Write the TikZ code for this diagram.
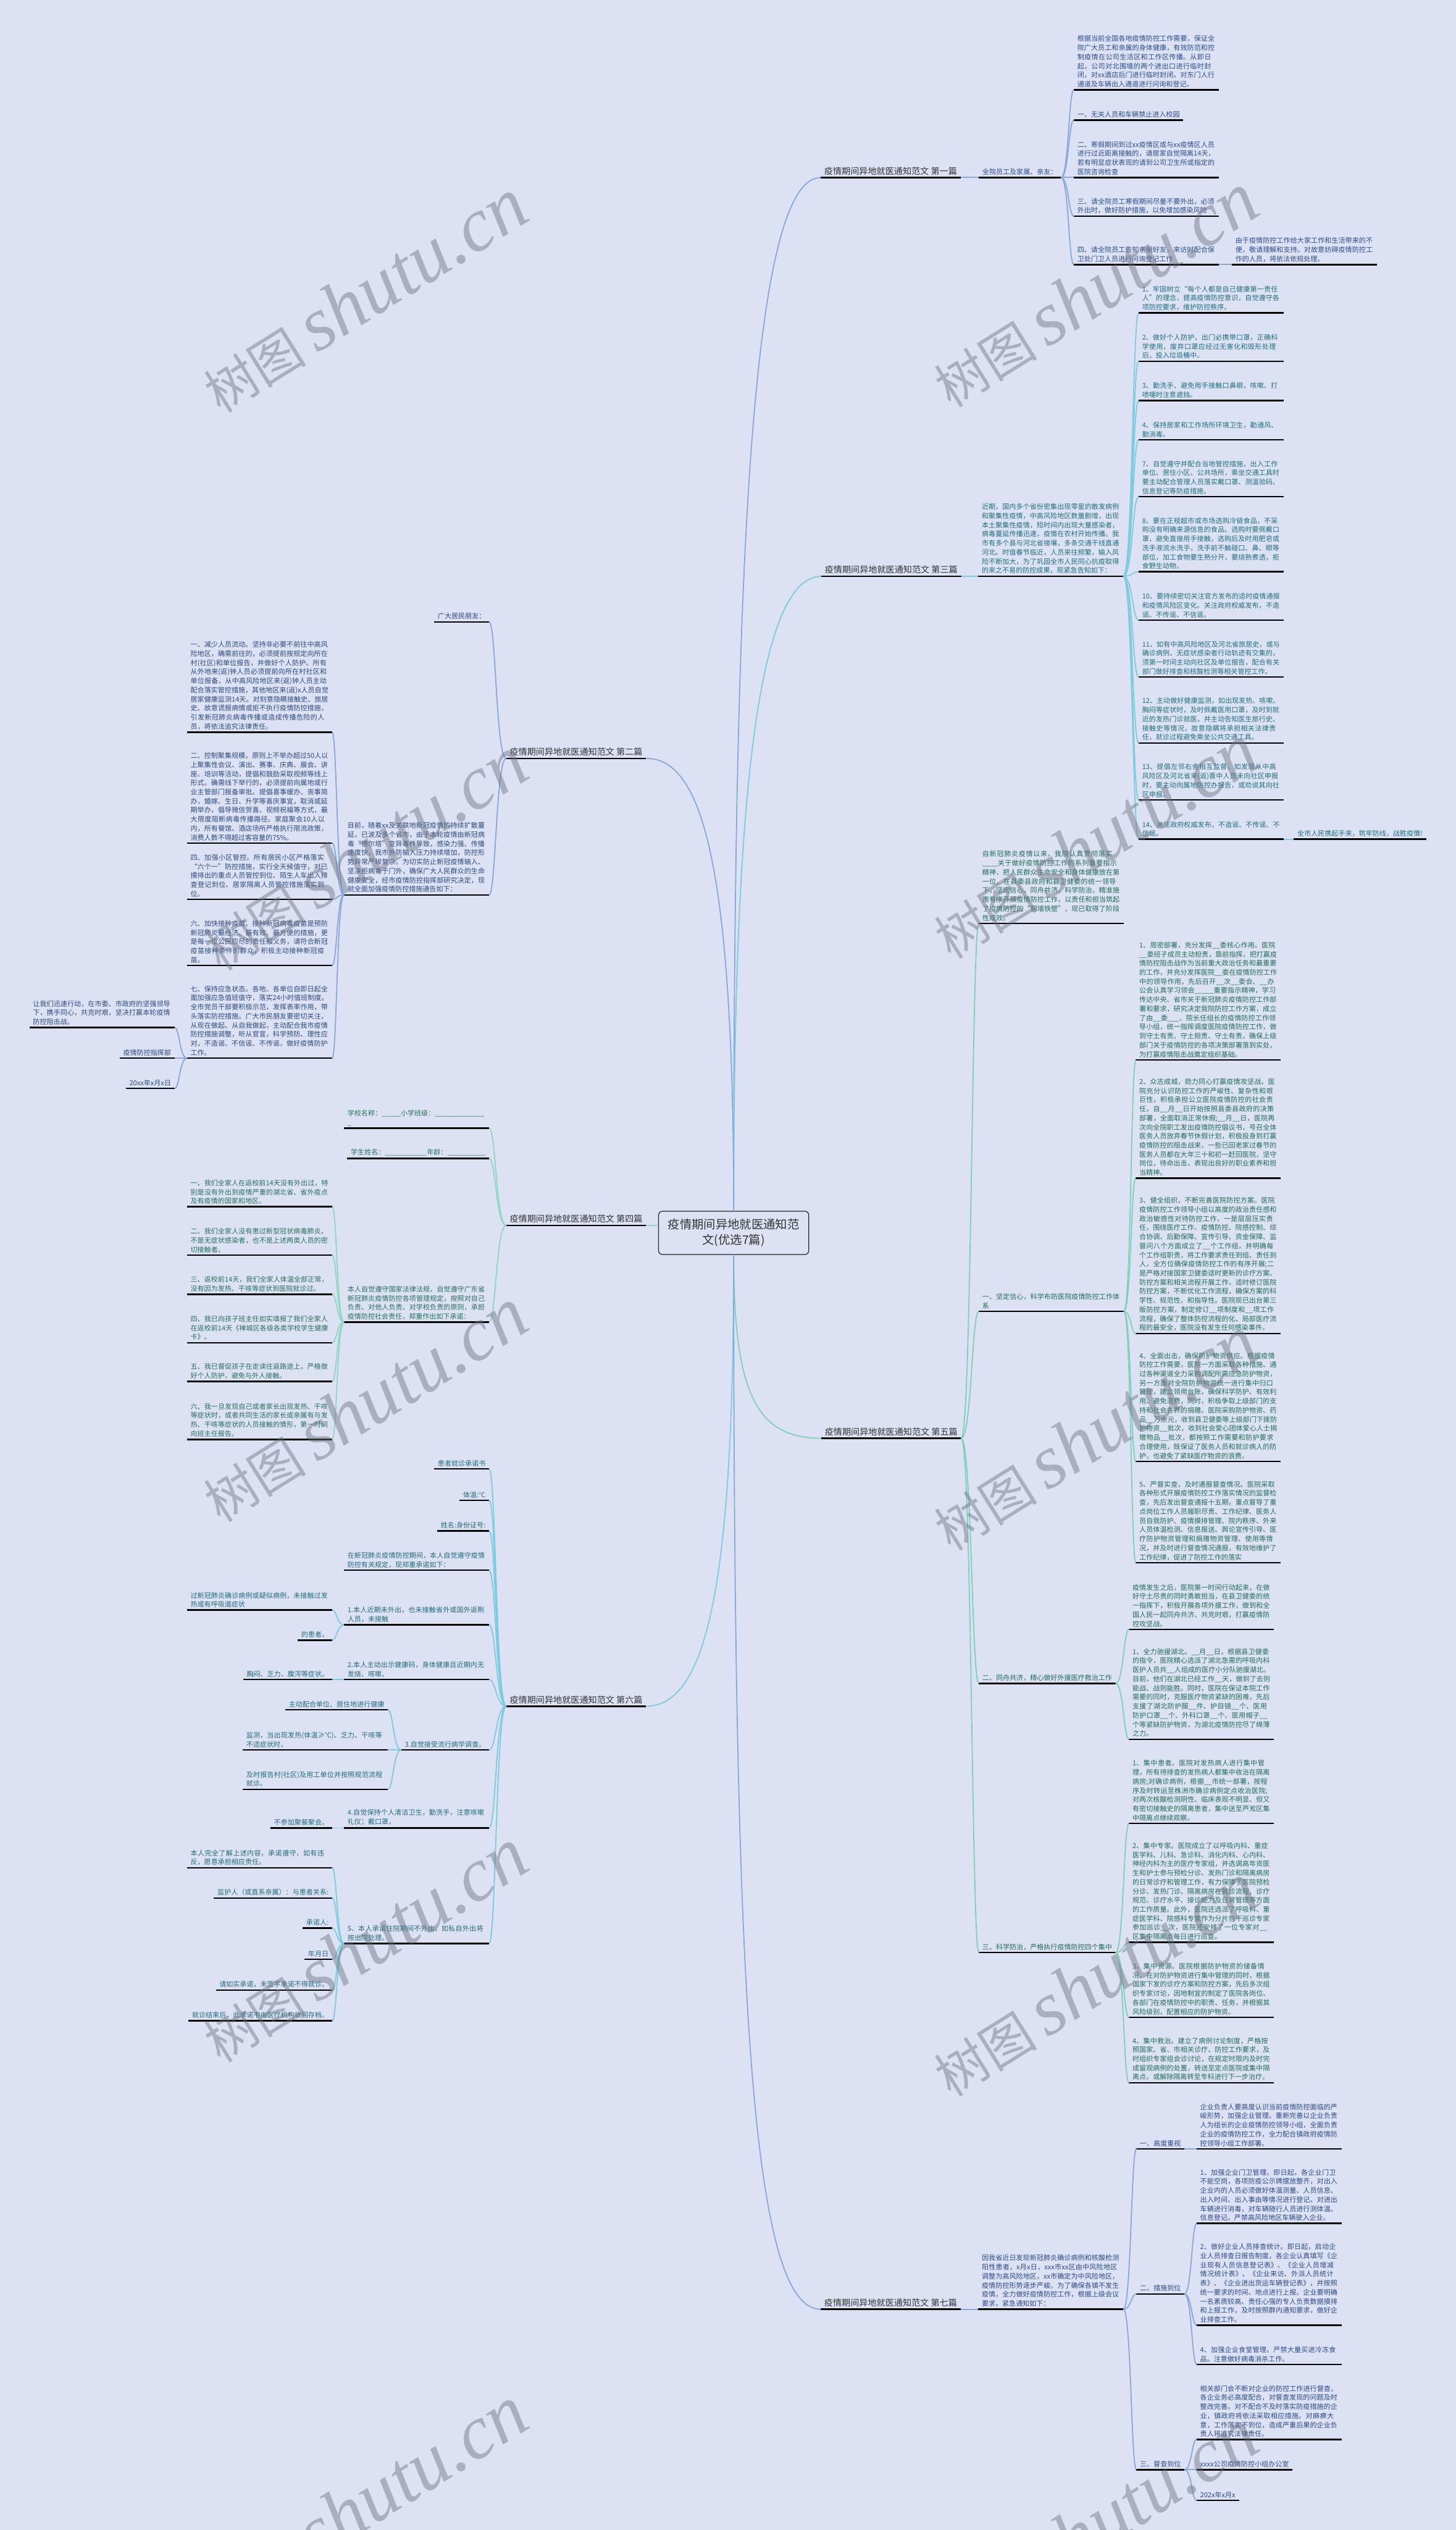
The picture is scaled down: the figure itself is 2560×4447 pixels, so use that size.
\documentclass[tikz,border=0pt]{standalone}
\usepackage{fontspec}
\setmainfont{Noto Sans CJK SC}
\newfontfamily\wmlatin{Liberation Serif}
\XeTeXlinebreaklocale "zh"
\XeTeXlinebreakskip = 0pt plus 1pt
\setlength\parindent{0pt}
\usetikzlibrary{calc}
\definecolor{bgc}{HTML}{DCE2F3}
\definecolor{titlec}{HTML}{333333}
\definecolor{c1}{HTML}{2B4C8C}
\definecolor{c2}{HTML}{2C4A7E}
\definecolor{c3}{HTML}{1E6F82}
\definecolor{c4}{HTML}{25705E}
\definecolor{c5}{HTML}{1F6E58}
\definecolor{c6}{HTML}{1F6C7E}
\definecolor{c7}{HTML}{2B4A88}
\definecolor{lblue}{HTML}{86A8DD}
\definecolor{lteal}{HTML}{7ECBE0}
\definecolor{lgreen}{HTML}{80D0B8}
\definecolor{lmint}{HTML}{8FD6C5}
\definecolor{wmc}{HTML}{6E7280}
\tikzset{
  base/.style={font=\fontsize{9pt}{12pt}\selectfont, align=left, inner xsep=4.5pt, inner ysep=3pt},
  rgt/.style={base, anchor=south west},
  lft/.style={base, anchor=south east},
  wide/.style={text width=182pt},
  ttl/.style={font=\fontsize{11.5pt}{14pt}\selectfont, text=titlec},
  uline/.style={line width=2pt, black},
  link/.style={line width=1.5pt},
  wm/.style={text=wmc, text opacity=0.45, rotate=32, inner sep=0pt},
}
\newcommand\nd[4]{\node[#1] (#2) at (#3) {#4}; \draw[uline] (#2.south west) -- (#2.south east);}
\newcommand\conn[3]{\path (#2) -- (#3) coordinate[pos=0.6] (cxtmp);
  \draw[link,#1] (#2) .. controls (#2 -| cxtmp) and (#3 -| cxtmp) .. (#3);}
\newcommand\wmtext{{\fontsize{68pt}{68pt}\selectfont 树图}\hspace{14pt}{\wmlatin\itshape\fontsize{100pt}{100pt}\selectfont shutu.cn}}
\begin{document}
\begin{tikzpicture}[x=0.75pt,y=-0.75pt]
\fill[bgc] (0,0) rectangle (2560,4447);
\useasboundingbox (0,0) rectangle (2560,4447);

% centre
\node[draw=black!85, line width=1pt, rounded corners=5pt, minimum width=198pt, minimum height=57pt, align=center, font=\fontsize{15.75pt}{20pt}\selectfont, text=titlec] (ctr) at (1290,2167) {疫情期间异地就医通知范\\文(优选7篇)};

% ================= Branch 1
\nd{rgt,ttl}{t1}{1443,312}{疫情期间异地就医通知范文 第一篇}
\nd{rgt,text=c1}{b1}{1721,312}{全院员工及家属、亲友：}
\nd{rgt,wide,text=c1}{b1a}{1888,158}{根据当前全国各地疫情防控工作需要，保证全院广大员工和亲属的身体健康，有效防范和控制疫情在公司生活区和工作区传播。从即日起，公司对北围墙的两个进出口进行临时封闭，对xx酒店后门进行临时封闭。对东门人行通道及车辆出入通道进行问询和登记。}
\nd{rgt,text=c1}{b1b}{1888,211}{一、无关人员和车辆禁止进入校园}
\nd{rgt,wide,text=c1}{b1c}{1888,312}{二、寒假期间到过xx疫情区或与xx疫情区人员进行过近距离接触的，请居家自觉隔离14天，若有明显症状表现的请到公司卫生所或指定的医院咨询检查}
\nd{rgt,wide,text=c1}{b1d}{1888,380}{三、请全院员工寒假期间尽量不要外出，必须外出时，做好防护措施，以免增加感染风险}
\nd{rgt,wide,text=c1}{b1e}{1888,465}{四、请全院员工告知亲朋好友，来访时配合保卫处门卫人员进行问询登记工作}
\nd{rgt,wide,text=c1}{b1f}{2166,465}{由于疫情防控工作给大家工作和生活带来的不便，敬请理解和支持。对故意妨碍疫情防控工作的人员，将依法依规处理。}

% ================= Branch 3
\nd{rgt,ttl}{t3}{1444,1013}{疫情期间异地就医通知范文 第三篇}
\nd{rgt,wide,text=c3}{b3}{1720,1013}{近期，国内多个省份密集出现零星的散发病例和聚集性疫情，中高风险地区数量剧增，出现本土聚集性疫情，短时间内出现大量感染者，病毒蔓延传播迅速，疫情在农村开始传播。我市有多个县与河北省接壤，多条交通干线直通河北。时值春节临近，人员来往频繁，输入风险不断加大，为了巩固全市人民同心抗疫取得的来之不易的防控成果，现紧急告知如下：}
\nd{rgt,wide,text=c3}{b3a}{2002,550}{1、牢固树立“每个人都是自己健康第一责任人”的理念，提高疫情防控意识，自觉遵守各项防控要求，维护防控秩序。}
\nd{rgt,wide,text=c3}{b3b}{2002,635}{2、做好个人防护，出门必携带口罩，正确科学使用，废弃口罩应经过无害化和毁形处理后，投入垃圾桶中。}
\nd{rgt,wide,text=c3}{b3c}{2002,704}{3、勤洗手、避免用手接触口鼻眼，咳嗽、打喷嚏时注意遮挡。}
\nd{rgt,wide,text=c3}{b3d}{2002,773}{4、保持居家和工作场所环境卫生，勤通风、勤消毒。}
\nd{rgt,wide,text=c3}{b3e}{2002,873}{7、自觉遵守并配合当地管控措施，出入工作单位、居住小区、公共场所，乘坐交通工具时要主动配合管理人员落实戴口罩、测温验码、信息登记等防疫措施。}
\nd{rgt,wide,text=c3}{b3f}{2002,1005}{8、要在正规超市或市场选购冷链食品，不采购没有明确来源信息的食品。选购时要佩戴口罩，避免直接用手接触，选购后及时用肥皂或洗手液流水洗手，洗手前不触碰口、鼻、眼等部位，加工食物要生熟分开，要烧熟煮透，拒食野生动物。}
\nd{rgt,wide,text=c3}{b3g}{2002,1090}{10、要持续密切关注官方发布的适时疫情通报和疫情风险区变化。关注政府权威发布，不造谣、不传谣、不信谣。}
\nd{rgt,wide,text=c3}{b3h}{2002,1190}{11、如有中高风险地区及河北省旅居史，或与确诊病例、无症状感染者行动轨迹有交集的，须第一时间主动向社区及单位报告，配合有关部门做好排查和核酸检测等相关管控工作。}
\nd{rgt,wide,text=c3}{b3i}{2002,1306}{12、主动做好健康监测，如出现发热、咳嗽、胸闷等症状时，及时佩戴医用口罩，及时到就近的发热门诊就医，并主动告知医生旅行史、接触史等情况，故意隐瞒将承担相关法律责任，就诊过程避免乘坐公共交通工具。}
\nd{rgt,wide,text=c3}{b3j}{2002,1406}{13、提倡左邻右舍相互监督，如发现从中高风险区及河北省来(返)晋中人员未向社区申报时，要主动向属地防控办报告，或劝说其向社区申报。}
\nd{rgt,wide,text=c3}{b3k}{2002,1475}{14、关注政府权威发布，不造谣、不传谣、不信谣。}
\nd{rgt,text=c3}{b3l}{2275,1475}{全市人民携起手来，筑牢防线，战胜疫情!}

% ================= Branch 5
\nd{rgt,ttl}{t5}{1444,2528}{疫情期间异地就医通知范文 第五篇}
\nd{rgt,wide,text=c5}{b5i}{1721,1623}{自新冠肺炎疫情以来，我院认真贯彻落实\_\_\_\_关于做好疫情防控工作的系列重要指示精神，把人民群众生命安全和身体健康放在第一位，在县委县政府和县卫健委的统一领导下，坚定信心，同舟共济，科学防治，精准施策有序开展疫情防控工作，以责任和担当筑起了疫情防控的“铜墙铁壁”，现已取得了阶段性成效。}
\nd{rgt,wide,text=c5}{b5a}{1721,2305}{一、坚定信心，科学布防医院疫情防控工作体系}
\nd{rgt,text=c5}{b5b}{1721,2959}{二、同舟共济，精心做好外援医疗救治工作}
\nd{rgt,text=c5}{b5c}{1721,3432}{三、科学防治，严格执行疫情防控四个集中}
\nd{rgt,wide,text=c5}{b5a1}{1997,1863}{1、周密部署，充分发挥\_\_委核心作用。医院\_\_委班子成员主动担责，靠前指挥，把打赢疫情防控阻击战作为当前重大政治任务和最重要的工作，并充分发挥医院\_\_委在疫情防控工作中的领导作用，先后召开\_\_次\_\_委会、\_\_办公会认真学习领会\_\_\_\_\_重要指示精神，学习传达中央、省市关于新冠肺炎疫情防控工作部署和要求，研究决定我院防控工作方案，成立了由\_\_委\_\_\_、院长任组长的疫情防控工作领导小组，统一指挥调度医院疫情防控工作，做到守土有责、守土担责、守土有责，确保上级部门关于疫情防控的各项决策部署落到实处，为打赢疫情阻击战奠定组织基础。}
\nd{rgt,wide,text=c5}{b5a2}{1997,2071}{2、众志成城，勠力同心打赢疫情攻坚战。医院充分认识防控工作的严峻性、复杂性和艰巨性，积极承担公立医院疫情防控的社会责任，自\_\_月\_\_日开始按照县委县政府的决策部署，全面取消正常休假;\_\_月\_\_日，医院再次向全院职工发出疫情防控倡议书，号召全体医务人员放弃春节休假计划，积极投身到打赢疫情防控的阻击战来，一些已回老家过春节的医务人员都在大年三十和初一赶回医院，坚守岗位，待命出击，表现出良好的职业素养和担当精神。}
\nd{rgt,wide,text=c5}{b5a3}{1997,2344}{3、健全组织，不断完善医院防控方案。医院疫情防控工作领导小组以高度的政治责任感和政治敏感性对待防控工作，一是层层压实责任，围绕医疗工作、疫情防控、院感控制、综合协调、后勤保障、宣传引导、资金保障、监督问八个方面成立了\_\_个工作组，并明确每个工作组职责，将工作要求责任到组、责任到人，全方位确保疫情防控工作的有序开展;二是严格对接国家卫健委适时更新的诊疗方案、防控方案和相关流程开展工作，适时修订医院防控方案，不断优化工作流程，确保方案的科学性、规范性、和指导性。医院现已出台第三版防控方案，制定修订\_\_项制度和\_\_项工作流程，确保了整体防控流程的化、局部医疗流程的最安全，医院没有发生任何感染事件。}
\nd{rgt,wide,text=c5}{b5a4}{1997,2569}{4、全面出击，确保防护物资供应。根据疫情防控工作需要，医院一方面采取各种措施、通过各种渠道全力采购调配所需应急防护物资，另一方面对全院防护物资统一进行集中归口管理，建立领用台账，确保科学防护、有效利用、避免浪费，同时，积极争取上级部门的支持和社会各界的捐赠。医院采购防护物资、药品\_\_万余元，收到县卫健委等上级部门下拨防护物资\_\_批次，收到社会爱心团体爱心人士捐赠物品\_\_批次，都按照工作需要和防护要求合理使用，既保证了医务人员和就诊病人的防护，也避免了紧缺医疗物资的浪费。}
\nd{rgt,wide,text=c5}{b5a5}{1997,2747}{5、严督实查，及时通报督查情况。医院采取各种形式开展疫情防控工作落实情况的监督检查，先后发出督查通报十五期，重点督导了重点岗位工作人员履职尽责、工作纪律、医务人员自我防护、疫情摸排管理、院内秩序、外来人员体温检测、信息报送、舆论宣传引导、医疗防护物资管理和捐赠物资管理、使用等情况，并及时进行督查情况通报，有效地维护了工作纪律，促进了防控工作的落实}
\nd{rgt,wide,text=c5}{b5b1}{1985,2864}{疫情发生之后，医院第一时间行动起来，在做好守土尽责的同时勇敢担当，在县卫健委的统一指挥下，积极开展各项外援工作，做到和全国人民一起同舟共济、共克时艰，打赢疫情防控攻坚战。}
\nd{rgt,wide,text=c5}{b5b2}{1985,3057}{1、全力驰援湖北。\_\_月\_\_日，根据县卫健委的指令，医院精心选派了湖北急需的呼吸内科医护人员共\_\_人组成的医疗小分队驰援湖北。目前，他们在湖北已经工作\_\_天，做到了去则能战、战则能胜。同时，医院在保证本院工作需要的同时，克服医疗物资紧缺的困难，先后支援了湖北防护服\_\_件、护目镜\_\_个、医用防护口罩\_\_个、外科口罩\_\_个、医用帽子\_\_个等紧缺防护物资，为湖北疫情防控尽了绵薄之力。}
\nd{rgt,wide,text=c5}{b5c1}{1985,3205}{1、集中患者。医院对发热病人进行集中管理，所有待排查的发热病人都集中收治在隔离病房;对确诊病例，根据\_\_市统一部署，按程序及时转运至株洲市确诊病例定点收治医院;对两次核酸检测阴性、临床表现不明显、但又有密切接触史的隔离患者，集中送至芦淞区集中隔离点继续观察。}
\nd{rgt,wide,text=c5}{b5c2}{1985,3414}{2、集中专家。医院成立了以呼吸内科、重症医学科、儿科、急诊科、消化内科、心内科、神经内科为主的医疗专家组，并选调高年资医生和护士参与预检分诊、发热门诊和隔离病房的日常诊疗和管理工作，有力保障了医院预检分诊、发热门诊、隔离病房在就诊流程、诊疗规范、诊疗水平、接诊能力及日常管理等方面的工作质量。此外，医院还选派了呼吸科、重症医学科、院感科专家作为分片包干巡诊专家参加巡诊\_\_次，医院还安排了一位专家对\_\_区集中隔离点每日进行巡查。}
\nd{rgt,wide,text=c5}{b5c3}{1985,3546}{3、集中资源。医院根据防护物资的储备情况，在对防护物资进行集中管理的同时，根据国家下发的诊疗方案和防控方案，先后多次组织专家讨论，因地制宜的制定了医院各岗位、各部门在疫情防控中的职责、任务，并根据其风险级别，配置相应的防护物资。}
\nd{rgt,wide,text=c5}{b5c4}{1985,3661}{4、集中救治。建立了病例讨论制度，严格按照国家、省、市相关诊疗、防控工作要求，及时组织专家组会诊讨论，在规定时限内及时完成留观病例的处置，转送至定点医院或集中隔离点，或解除隔离转至专科进行下一步治疗。}

% ================= Branch 7
\nd{rgt,ttl}{t7}{1443,4059}{疫情期间异地就医通知范文 第七篇}
\nd{rgt,wide,text=c7}{b7}{1720,4059}{因我省近日发现新冠肺炎确诊病例和核酸检测阳性患者，x月x日，xxx市xx区由中风险地区调整为高风险地区，xx市确定为中风险地区，疫情防控形势逐步严峻。为了确保各镇不发生疫情，全力做好疫情防控工作，根据上级会议要求，紧急通知如下：}
\nd{rgt,text=c7}{b7a}{1998,3777}{一、高度重视}
\nd{rgt,text=c7}{b7b}{1998,4032}{二、措施到位}
\nd{rgt,text=c7}{b7c}{1998,4341}{三、督查到位}
\nd{rgt,wide,text=c7}{b7a1}{2104,3777}{企业负责人要高度认识当前疫情防控面临的严峻形势，加强企业管理。重新完善以企业负责人为组长的企业疫情防控领导小组，全面负责企业的疫情防控工作，全力配合镇政府疫情防控领导小组工作部署。}
\nd{rgt,wide,text=c7}{b7b1}{2104,3908}{1、加强企业门卫管理。即日起，各企业门卫不能空岗，各项防疫公示牌摆放整齐，对出入企业内的人员必须做好体温测量、人员信息、出入时间、出入事由等情况进行登记。对进出车辆进行消毒，对车辆随行人员进行测体温、信息登记。严禁高风险地区车辆驶入企业。}
\nd{rgt,wide,text=c7}{b7b2}{2104,4087}{2、做好企业人员排查统计。即日起，启动企业人员排查日报告制度，各企业认真填写《企业现有人员信息登记表》、《企业人员增减情况统计表》、《企业来访、外派人员统计表》、《企业进出货运车辆登记表》，并按照统一要求的时间、地点进行上报。企业要明确一名素质较高、责任心强的专人负责数据摸排和上报工作，及时按照群内通知要求，做好企业排查工作。}
\nd{rgt,wide,text=c7}{b7b3}{2104,4156}{4、加强企业食堂管理。严禁大量买进冷冻食品。注意做好病毒消杀工作。}
\nd{rgt,wide,text=c7}{b7c1}{2104,4288}{相关部门会不断对企业的防控工作进行督查，各企业务必高度配合，对督查发现的问题及时整改完善。对不配合不及时落实防疫措施的企业，镇政府将依法采取相应措施。对麻痹大意，工作落实不到位，造成严重后果的企业负责人将追究法律责任。}
\nd{rgt,text=c7}{b7c2}{2104,4341}{xxxx公司疫情防控小组办公室}
\nd{rgt,text=c7}{b7c3}{2104,4395}{202x年x月x}

% ================= Branch 2
\nd{lft,ttl}{t2}{1136,1333}{疫情期间异地就医通知范文 第二篇}
\nd{lft,text=c2}{b2a}{860,1093}{广大居民朋友：}
\nd{lft,wide,text=c2}{b2b}{860,1573}{目前，随着xx及关联地新冠疫情的持续扩散蔓延，已波及多个省市，由于本轮疫情由新冠病毒“德尔塔”变异毒株导致，感染力强、传播速度快，我市外防输入压力持续增加，防控形势异常严峻复杂。为切实防止新冠疫情输入、坚决拒病毒于门外，确保广大人民群众的生命健康安全，经市疫情防控指挥部研究决定，现就全面加强疫情防控措施通告如下：}
\nd{lft,wide,text=c2}{b2b1}{584,1287}{一、减少人员流动。坚持非必要不前往中高风险地区，确需前往的，必须提前按规定向所在村(社区)和单位报告，并做好个人防护。所有从外地来(返)钟人员必须提前向所在村社区和单位报备，从中高风险地区来(返)钟人员主动配合落实管控措施，其他地区来(返)x人员自觉居家健康监测14天。对刻意隐瞒接触史、旅居史、故意谎报病情或拒不执行疫情防控措施，引发新冠肺炎病毒传播或造成传播危险的人员，将依法追究法律责任。}
\nd{lft,wide,text=c2}{b2b2}{584,1482}{二、控制聚集规模。原则上不举办超过50人以上聚集性会议、演出、赛事、庆典、展会、讲座、培训等活动，提倡和鼓励采取视频等线上形式。确需线下举行的，必须提前向属地或行业主管部门报备审批。提倡喜事缓办、丧事简办，婚嫁、生日、升学等喜庆事宜，取消或延期举办，倡导微信贺喜、视频祝福等方式，最大限度阻断病毒传播路径。家庭聚会10人以内，所有餐馆、酒店场所严格执行限流政策，消费人数不得超过客容量的75\%。}
\nd{lft,wide,text=c2}{b2b3}{584,1581}{四、加强小区管控。所有居民小区严格落实“六个一”防控措施，实行全天候值守，对已摸排出的重点人员管控到位、陌生人车出入排查登记到位、居家隔离人员管控措施落实到位。}
\nd{lft,wide,text=c2}{b2b4}{584,1697}{六、加快接种疫苗。接种新冠病毒疫苗是预防新冠肺炎最经济、最有效、最方便的措施，更是每一位公民应尽的责任和义务，请符合新冠疫苗接种条件的群众，积极主动接种新冠疫苗。}
\nd{lft,wide,text=c2}{b2b5}{584,1860}{七、保持应急状态。各地、各单位自即日起全面加强应急值班值守，落实24小时值班制度。全市党员干部要积极示范，发挥表率作用，带头落实防控措施。广大市民朋友要密切关注，从现在做起、从自我做起，主动配合我市疫情防控措施调整，听从官宣，科学预防、理性应对，不造谣、不信谣、不传谣，做好疫情防护工作。}
\nd{lft,wide,text=c2}{b2c1}{307,1806}{让我们迅速行动，在市委、市政府的坚强领导下，携手同心，共克时艰，坚决打赢本轮疫情防控阻击战。}
\nd{lft,text=c2}{b2c2}{307,1860}{疫情防控指挥部}
\nd{lft,text=c2}{b2c3}{307,1913}{20xx年x月x日}

% ================= Branch 4
\nd{lft,ttl}{t4}{1136,2154}{疫情期间异地就医通知范文 第四篇}
\nd{lft,wide,text=c4}{b4a}{860,1983}{学校名称：\_\_\_\_\_小学班级：\_\_\_\_\_\_\_\_\_\_\_\_\_\\\_}
\nd{lft,text=c4}{b4b}{860,2036}{学生姓名：\_\_\_\_\_\_\_\_\_\_\_年龄：\_\_\_\_\_\_\_\_\_\_}
\nd{lft,wide,text=c4}{b4c}{860,2324}{本人自觉遵守国家法律法规，自觉遵守广东省新冠肺炎疫情防控各项管理规定，按照对自己负责、对他人负责、对学校负责的原则，承担疫情防控社会责任，郑重作出如下承诺：}
\nd{lft,wide,text=c4}{b4c1}{584,2121}{一、我们全家人在返校前14天没有外出过，特别是没有外出到疫情严重的湖北省、省外疫点及有疫情的国家和地区。}
\nd{lft,wide,text=c4}{b4c2}{584,2206}{二、我们全家人没有患过新型冠状病毒肺炎、不是无症状感染者，也不是上述两类人员的密切接触者。}
\nd{lft,wide,text=c4}{b4c3}{584,2275}{三、返校前14天，我们全家人体温全部正常，没有因为发热、干咳等症状到医院就诊过。}
\nd{lft,wide,text=c4}{b4c4}{584,2360}{四、我已向孩子班主任如实填报了我们全家人在返校前14天《禅城区各级各类学校学生健康卡》。}
\nd{lft,wide,text=c4}{b4c5}{584,2428}{五、我已督促孩子在走读往返路途上，严格做好个人防护，避免与外人接触。}
\nd{lft,wide,text=c4}{b4c6}{584,2530}{六、我一旦发现自己或者家长出现发热、干咳等症状时，或者共同生活的家长或亲属有与发热、干咳等症状的人员接触的情形，第一时间向班主任报告。}

% ================= Branch 6
\nd{lft,ttl}{t6}{1136,2999}{疫情期间异地就医通知范文 第六篇}
\nd{lft,text=c6}{b6a}{860,2582}{患者就诊承诺书}
\nd{lft,text=c6}{b6b}{860,2637}{体温:℃}
\nd{lft,text=c6}{b6c}{860,2691}{姓名:身份证号:}
\nd{lft,wide,text=c6}{b6d}{860,2760}{在新冠肺炎疫情防控期间，本人自觉遵守疫情防控有关规定，现郑重承诺如下：}
\nd{lft,wide,text=c6}{b6e}{860,2856}{1.本人近期未外出，也未接触省外或国外返荆人员，未接触}
\nd{lft,wide,text=c6}{b6f}{860,2952}{2.本人主动出示健康码，身体健康且近期内无发烧、咳嗽、}
\nd{lft,text=c6}{b6g}{860,3076}{3.自觉接受流行病学调查。}
\nd{lft,wide,text=c6}{b6h}{860,3213}{4.自觉保持个人清洁卫生，勤洗手，注意咳嗽礼仪；戴口罩，}
\nd{lft,wide,text=c6}{b6i}{860,3416}{5、本人承诺住院期间不外出，如私自外出将按出院处理。}
\nd{lft,wide,text=c6}{b6e1}{584,2830}{过新冠肺炎确诊病例或疑似病例，未接触过发热或有呼吸道症状}
\nd{lft,text=c6}{b6e2}{584,2883}{的患者。}
\nd{lft,text=c6}{b6f1}{584,2952}{胸闷、乏力、腹泻等症状。}
\nd{lft,text=c6}{b6g1}{682,3005}{主动配合单位、居住地进行健康}
\nd{lft,wide,text=c6}{b6g2}{682,3076}{监测，当出现发热(体温≥℃)、乏力、干咳等不适症状时，}
\nd{lft,wide,text=c6}{b6g3}{682,3145}{及时报告村(社区)及用工单位并按照规范流程就诊。}
\nd{lft,text=c6}{b6h1}{584,3213}{不参加聚餐聚会。}
\nd{lft,wide,text=c6}{b6i1}{584,3283}{本人完全了解上述内容，承诺遵守，如有违反，愿意承担相应责任。}
\nd{lft,text=c6}{b6i2}{584,3336}{监护人（或直系亲属）：与患者关系:}
\nd{lft,text=c6}{b6i3}{584,3389}{承诺人:}
\nd{lft,text=c6}{b6i4}{584,3444}{年月日}
\nd{lft,text=c6}{b6i5}{584,3498}{请如实承诺，未签字承诺不得就诊。}
\nd{lft,text=c6}{b6i6}{584,3552}{就诊结束后，此承诺书由医疗机构收回存档。}

% ================= main connectors
\draw[link,lblue] (ctr.north) .. controls (1290,1000) and (1320,312) .. (t1.south west);
\draw[link,lteal] (ctr.north) .. controls (1290,1500) and (1320,1013) .. (t3.south west);
\draw[link,lblue] (ctr.north) .. controls (1290,1500) and (1230,1333) .. (t2.south east);
\draw[link,lmint] (ctr.west |- t4.south east) -- (t4.south east);
\draw[link,lgreen] (ctr.south) .. controls (1290,2450) and (1330,2528) .. (t5.south west);
\draw[link,lteal] (ctr.south) .. controls (1290,2750) and (1250,2999) .. (t6.south east);
\draw[link,lblue] (ctr.south) .. controls (1290,3500) and (1320,4059) .. (t7.south west);

% branch 1
\conn{lblue}{t1.south east}{b1.south west}
\foreach \n in {b1a,b1b,b1c,b1d,b1e}{\conn{lblue}{b1.south east}{\n.south west}}
\conn{lblue}{b1e.south east}{b1f.south west}
% branch 3
\conn{lteal}{t3.south east}{b3.south west}
\foreach \n in {b3a,b3b,b3c,b3d,b3e,b3f,b3g,b3h,b3i,b3j,b3k}{\conn{lteal}{b3.south east}{\n.south west}}
\conn{lteal}{b3k.south east}{b3l.south west}
% branch 5
\foreach \n in {b5i,b5a,b5b,b5c}{\conn{lgreen}{t5.south east}{\n.south west}}
\foreach \n in {b5a1,b5a2,b5a3,b5a4,b5a5}{\conn{lgreen}{b5a.south east}{\n.south west}}
\foreach \n in {b5b1,b5b2}{\conn{lgreen}{b5b.south east}{\n.south west}}
\foreach \n in {b5c1,b5c2,b5c3,b5c4}{\conn{lgreen}{b5c.south east}{\n.south west}}
% branch 7
\conn{lblue}{t7.south east}{b7.south west}
\foreach \n in {b7a,b7b,b7c}{\conn{lblue}{b7.south east}{\n.south west}}
\conn{lblue}{b7a.south east}{b7a1.south west}
\foreach \n in {b7b1,b7b2,b7b3}{\conn{lblue}{b7b.south east}{\n.south west}}
\foreach \n in {b7c1,b7c2,b7c3}{\conn{lblue}{b7c.south east}{\n.south west}}
% branch 2
\foreach \n in {b2a,b2b}{\conn{lblue}{t2.south west}{\n.south east}}
\foreach \n in {b2b1,b2b2,b2b3,b2b4,b2b5}{\conn{lblue}{b2b.south west}{\n.south east}}
\foreach \n in {b2c1,b2c2,b2c3}{\conn{lblue}{b2b5.south west}{\n.south east}}
% branch 4
\foreach \n in {b4a,b4b,b4c}{\conn{lmint}{t4.south west}{\n.south east}}
\foreach \n in {b4c1,b4c2,b4c3,b4c4,b4c5,b4c6}{\conn{lmint}{b4c.south west}{\n.south east}}
% branch 6
\foreach \n in {b6a,b6b,b6c,b6d,b6e,b6f,b6g,b6h,b6i}{\conn{lteal}{t6.south west}{\n.south east}}
\foreach \n in {b6e1,b6e2}{\conn{lteal}{b6e.south west}{\n.south east}}
\conn{lteal}{b6f.south west}{b6f1.south east}
\foreach \n in {b6g1,b6g2,b6g3}{\conn{lteal}{b6g.south west}{\n.south east}}
\conn{lteal}{b6h.south west}{b6h1.south east}
\foreach \n in {b6i1,b6i2,b6i3,b6i4,b6i5,b6i6}{\conn{lteal}{b6i.south west}{\n.south east}}

% watermarks
\node[wm] (wm1) at (640,520) {\wmtext};
\node[wm] (wm2) at (1925,510) {\wmtext};
\node[wm] (wm3) at (640,1500) {\wmtext};
\node[wm] (wm4) at (1925,1480) {\wmtext};
\node[wm] (wm5) at (640,2470) {\wmtext};
\node[wm] (wm6) at (1925,2520) {\wmtext};
\node[wm] (wm7) at (640,3420) {\wmtext};
\node[wm] (wm8) at (1925,3480) {\wmtext};
\node[wm] (wm9) at (640,4400) {\wmtext};
\node[wm] (wm10) at (1925,4440) {\wmtext};
\end{tikzpicture}
\end{document}
